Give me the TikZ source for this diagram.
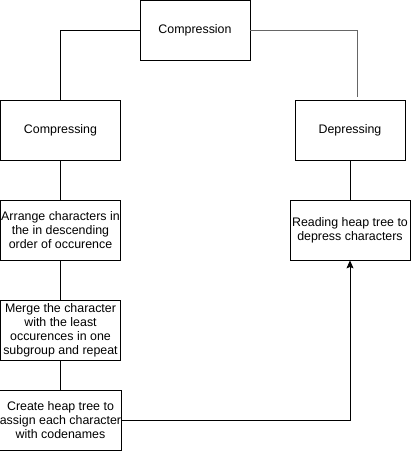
\documentclass[tikz,border=0pt]{standalone}
\usepackage{fontspec}
\setmainfont{Liberation Sans}
\usetikzlibrary{arrows.meta}

\begin{document}
\begin{tikzpicture}[x=1pt,y=-1pt,line width=0.8pt,
  stepbox/.style={draw,minimum width=120pt,minimum height=60pt,
    align=center,inner sep=0pt,font=\fontsize{12.4}{14}\selectfont}]

\useasboundingbox (0,0) rectangle (411,451);

\node[stepbox,minimum width=110pt] (comp) at (195,30.5) {Compression};
\node[stepbox] (cing) at (60.5,130) {Compressing};
\node[stepbox,minimum width=110pt] (dep) at (350,130) {Depressing};

\node[stepbox] (arr) at (60.5,230) {Arrange characters in\\the in descending\\order of occurence};
\node[stepbox] (read) at (350,230) {Reading heap tree to\\depress characters};
\node[stepbox] (merge) at (60.5,330) {Merge the character\\with the least\\occurences in one\\subgroup and repeat};
\node[stepbox] (heap) at (60.5,420) {Create heap tree to\\assign each character\\with codenames};

\coordinate (depend) at (357,97);

\draw (comp.west) -| (cing.north);
\draw[black!60] (comp.east) -| (depend);
\draw (cing) -- (arr);
\draw (dep) -- (read);
\draw (arr) -- (merge);
\draw (merge) -- (heap);
\draw[-{Stealth[length=8pt,width=7pt,inset=1.5pt]}] (heap.east) -| (read.south);

\end{tikzpicture}
\end{document}
